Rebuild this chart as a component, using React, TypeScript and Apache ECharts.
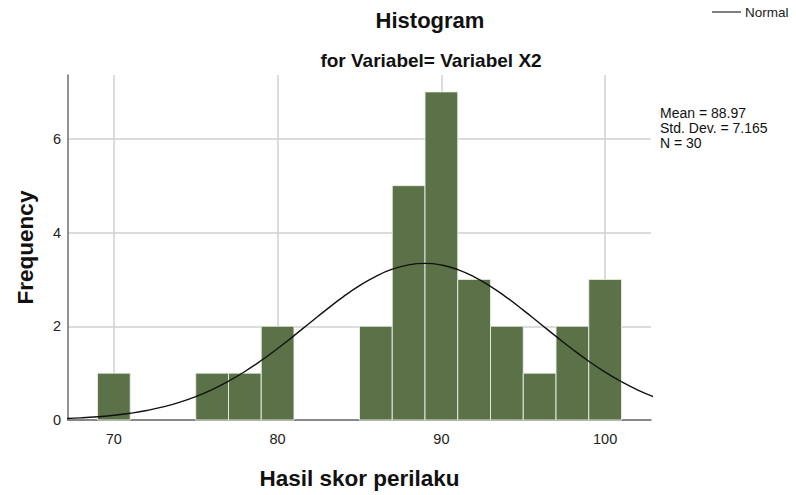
import React, { useEffect, useRef } from "react";
import * as echarts from "echarts";

// Histogram bins (centre of each bin, width 2)
const binCenters = [70, 76, 78, 80, 86, 88, 90, 92, 94, 96, 98, 100];
const frequencies = [1, 1, 1, 2, 2, 5, 7, 3, 2, 1, 2, 3];
const BIN_WIDTH = 2;

// Normal curve (Mean = 88.97, Std. Dev. = 7.165, N = 30), read at integer scores
const curveX = [67, 68, 69, 70, 71, 72, 73, 74, 75, 76, 77, 78, 79, 80, 81, 82, 83, 84, 85,
  86, 87, 88, 89, 90, 91, 92, 93, 94, 95, 96, 97, 98, 99, 100, 101, 102, 103];
const curveY = [0.030, 0.046, 0.069, 0.100, 0.144, 0.202, 0.279, 0.377, 0.499, 0.649, 0.828,
  1.035, 1.269, 1.526, 1.800, 2.081, 2.361, 2.626, 2.865, 3.066, 3.217, 3.310, 3.341, 3.307,
  3.209, 3.055, 2.852, 2.611, 2.344, 2.064, 1.783, 1.510, 1.254, 1.021, 0.816, 0.639, 0.491];

const xTicks = [70, 80, 90, 100];
const yTicks = [0, 2, 4, 6];
const statsLines = ["Mean = 88.97", "Std. Dev. = 7.165", "N = 30"];

const FONT = "Liberation Sans, Arial, sans-serif";

export default function App() {
  const ref = useRef<HTMLDivElement>(null);
  useEffect(() => {
    if (!ref.current) return;
    const chart = echarts.init(ref.current, null, { renderer: "svg" });
    const barData = binCenters.map((c, i) => [c, frequencies[i]]);
    const lineData = curveX.map((x, i) => [x, curveY[i]]);
    chart.setOption({
      animation: false,
      backgroundColor: "#ffffff",
      textStyle: { fontFamily: FONT },
      grid: { left: 68, right: 145, top: 75, bottom: 73, containLabel: false },
      legend: {
        show: true,
        left: 712,
        top: 5,
        itemWidth: 29,
        itemHeight: 14,
        padding: 0,
        data: [{ name: "Normal", icon: "path://M0,7L29,7L29,8.5L0,8.5Z" }],
        textStyle: { fontFamily: FONT, fontSize: 13.5, color: "#222", padding: [0, 0, 0, -1] },
        itemStyle: { color: "#555" },
      },
      graphic: [
        {
          type: "text",
          x: 430,
          y: 20,
          style: {
            text: "Histogram",
            font: `bold 22px ${FONT}`,
            fill: "#111",
            align: "center",
            verticalAlign: "middle",
          },
        },
        {
          type: "text",
          x: 431,
          y: 60,
          style: {
            text: "for Variabel= Variabel X2",
            font: `bold 19px ${FONT}`,
            fill: "#111",
            align: "center",
            verticalAlign: "middle",
          },
        },
        {
          type: "text",
          x: 660,
          y: 105,
          style: {
            text: statsLines.join("\n"),
            font: `14px ${FONT}`,
            lineHeight: 15,
            fill: "#111",
            align: "left",
            verticalAlign: "top",
          },
        },
      ],
      xAxis: {
        type: "value",
        min: 67.2,
        max: 102.8,
        name: "Hasil skor perilaku",
        nameLocation: "middle",
        nameGap: 47,
        nameTextStyle: { fontFamily: FONT, fontSize: 22.5, fontWeight: "bold", color: "#111" },
        axisLine: { show: true, lineStyle: { color: "#6e6e6e", width: 1.5 } },
        axisTick: { show: false, customValues: xTicks },
        axisLabel: {
          customValues: xTicks,
          fontSize: 14.5,
          color: "#222",
          margin: 11,
          fontFamily: FONT,
        },
        splitLine: { show: true, lineStyle: { color: "#cfcfcf", width: 1.5 } },
      },
      yAxis: {
        type: "value",
        min: 0,
        max: 7.36,
        name: "Frequency",
        nameLocation: "middle",
        nameGap: 31,
        nameRotate: 90,
        nameTextStyle: { fontFamily: FONT, fontSize: 22.5, fontWeight: "bold", color: "#111" },
        axisLine: { show: true, lineStyle: { color: "#6e6e6e", width: 1.5 } },
        axisTick: { show: false, customValues: yTicks },
        axisLabel: {
          customValues: yTicks,
          fontSize: 14.5,
          color: "#222",
          margin: 7,
          fontFamily: FONT,
        },
        splitLine: { show: true, lineStyle: { color: "#cfcfcf", width: 1.5 } },
      },
      series: [
        {
          type: "custom",
          name: "Frequency",
          data: barData,
          encode: { x: 0, y: 1 },
          z: 3,
          renderItem: (params: any, api: any) => {
            const c = api.value(0);
            const f = api.value(1);
            const p0 = api.coord([c - BIN_WIDTH / 2, f]);
            const p1 = api.coord([c + BIN_WIDTH / 2, 0]);
            return {
              type: "rect",
              shape: { x: p0[0], y: p0[1], width: p1[0] - p0[0], height: p1[1] - p0[1] },
              style: { fill: "#5b7148", stroke: "rgba(235,240,230,0.9)", lineWidth: 1 },
            };
          },
        },
        {
          type: "line",
          name: "Normal",
          data: lineData,
          smooth: true,
          showSymbol: false,
          symbol: "none",
          z: 5,
          clip: true,
          lineStyle: { color: "#111", width: 1.4 },
          itemStyle: { color: "#555" },
        },
      ],
    });
    return () => chart.dispose();
  }, []);
  return (
    <div
      ref={ref}
      style={{ position: "absolute", left: 0, top: 0, width: 796, height: 495 }}
    />
  );
}
